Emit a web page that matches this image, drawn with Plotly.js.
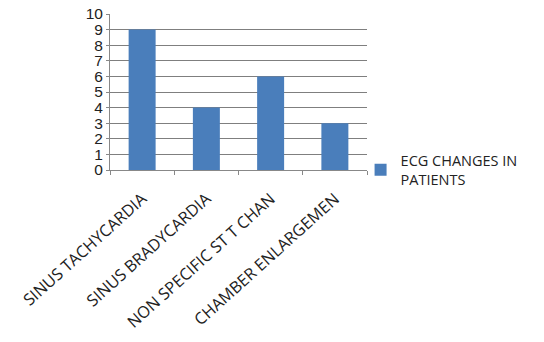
<!DOCTYPE html>
<html>
<head>
<meta charset="utf-8">
<script src="https://cdn.plot.ly/plotly-3.0.1.min.js"></script>
<style>
  html, body { margin: 0; padding: 0; background: #fff; }
  #chart { width: 544px; height: 342px; }
</style>
</head>
<body>
<div id="chart"></div>
<script>
// ECG findings and patient counts
const categories = [
  "SINUS TACHYCARDIA",
  "SINUS BRADYCARDIA",
  "NON SPECIFIC ST T CHAN",
  "CHAMBER ENLARGEMEN"
];
const patientCounts = [9, 4, 6, 3];
const seriesName = "ECG CHANGES IN<br>PATIENTS";
const yTickValues = [0, 1, 2, 3, 4, 5, 6, 7, 8, 9, 10];

const trace = {
  type: "bar",
  x: categories,
  y: patientCounts,
  name: seriesName,
  marker: { color: "#4a7ebb" },
  width: 0.42,
  showlegend: true
};

const layout = {
  width: 544,
  height: 342,
  margin: { l: 110, r: 177, t: 14, b: 172 },
  paper_bgcolor: "#fff",
  plot_bgcolor: "#fff",
  font: { family: "Open Sans, Liberation Sans, sans-serif", color: "#222" },
  xaxis: {
    type: "category",
    tickangle: -42,
    tickfont: { size: 16.3, color: "#222" },
    ticklabelstandoff: 12,
    showline: true,
    linecolor: "#888",
    linewidth: 1,
    ticks: "outside",
    tickson: "boundaries",
    ticklen: 4,
    tickcolor: "#888",
    showgrid: false,
    automargin: false,
    fixedrange: true
  },
  yaxis: {
    range: [0, 10],
    tickvals: yTickValues,
    ticktext: yTickValues.map(String),
    tickfont: { size: 15.5, color: "#222", family: "Liberation Sans, sans-serif" },
    showline: true,
    linecolor: "#888",
    linewidth: 1,
    ticks: "outside",
    ticklen: 3,
    tickcolor: "#888",
    showgrid: true,
    gridcolor: "#7f7f7f",
    gridwidth: 1,
    zeroline: false,
    automargin: false,
    fixedrange: true
  },
  legend: {
    x: 0.975,
    xanchor: "left",
    y: 0,
    yanchor: "middle",
    font: { size: 14.5, color: "#222" },
    itemwidth: 30,
    tracegroupgap: 0,
    bgcolor: "rgba(0,0,0,0)"
  },
  bargap: 0.58
};

Plotly.newPlot("chart", [trace], layout, { staticPlot: true, displayModeBar: false });
</script>
</body>
</html>
